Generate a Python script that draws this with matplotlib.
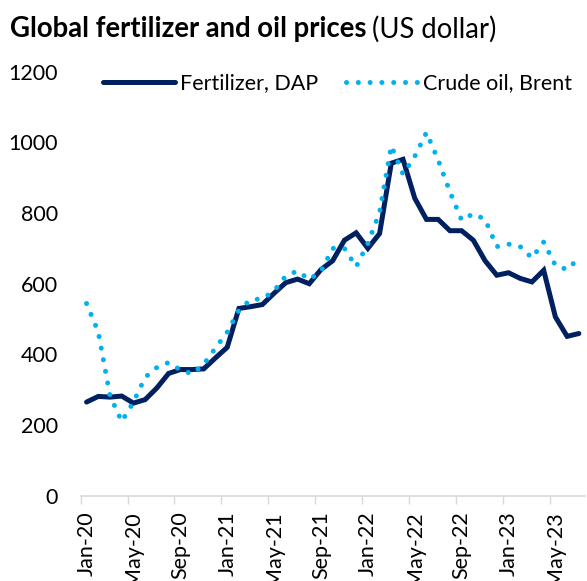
import matplotlib
matplotlib.use("Agg")
import matplotlib.pyplot as plt
import pandas as pd
import numpy as np

plt.rcParams['font.family'] = ['Lato', 'DejaVu Sans']

# monthly categories Jan-20 .. Jul-23
months = pd.date_range('2020-01-01', '2023-07-01', freq='MS')
month_labels = [d.strftime('%b-%y') for d in months]

fertilizer_dap = [265, 281, 279, 282, 262, 272, 305, 346, 357, 357, 359, 390,
                  420, 530, 535, 541, 573, 603, 613, 600, 640, 665, 723, 744,
                  700, 742, 941, 952, 842, 782, 782, 750, 750, 723, 665, 624,
                  631, 615, 605, 638, 506, 451, 459]
crude_oil_brent = [544, 463, 283, 210, 265, 335, 363, 377, 356, 345, 372, 418,
                   463, 525, 555, 557, 580, 622, 636, 612, 635, 700, 700, 648,
                   714, 802, 990, 910, 960, 1028, 950, 860, 780, 798, 782, 705,
                   712, 705, 673, 718, 652, 640, 672]

W, H = 587, 581
fig = plt.figure(figsize=(W / 100, H / 100), dpi=100)
ax = fig.add_axes([80.7 / W, 1 - 495.7 / H, 504 / W, (495.7 - 71.7) / H])

x = np.arange(len(months))
navy = '#002060'
cyan = '#00B0F0'
ax.plot(x, fertilizer_dap, color=navy, lw=3.6, solid_capstyle='round',
        solid_joinstyle='miter', label='Fertilizer, DAP')
ax.plot(x, crude_oil_brent, color=cyan, lw=3.6, dashes=(0.01, 2.35),
        dash_capstyle='round', label='Crude oil, Brent')

ax.set_xlim(-0.5, len(months) - 0.5)
ax.set_ylim(0, 1200)
ax.set_yticks(range(0, 1201, 200))
ax.tick_params(axis='y', length=0, pad=16.5, labelsize=15.5)

ax.set_xticks(x[::4])
ax.set_xticklabels(month_labels[::4], rotation=90, fontsize=15.5)
ax.set_xticks(np.arange(-0.5, len(months) - 3, 4), minor=True)
ax.tick_params(axis='x', which='major', length=0, pad=11.5)
ax.tick_params(axis='x', which='minor', length=6, width=1, color='#d9d9d9')

for s in ['top', 'right', 'left']:
    ax.spines[s].set_visible(False)
ax.spines['bottom'].set_color('#d9d9d9')
ax.spines['bottom'].set_linewidth(1.2)

ax.legend(loc='center left', bbox_to_anchor=(103 / W, 1 - 83.3 / H),
          bbox_transform=fig.transFigure, ncol=2, frameon=False, fontsize=15.5,
          handlelength=3.35, handletextpad=0.25, columnspacing=1.25,
          borderpad=0, borderaxespad=0)

t1 = fig.text(10 / W, 1 - 29 / H, 'Global fertilizer and oil prices',
              fontsize=19.8, fontweight='bold', va='center', ha='left')
fig.canvas.draw()
bb = t1.get_window_extent()
fig.text(bb.x1 / W + 6 / W, 1 - 29 / H, '(US dollar)', fontsize=19.8,
         va='center', ha='left')

fig.savefig('out.png', dpi=100)
